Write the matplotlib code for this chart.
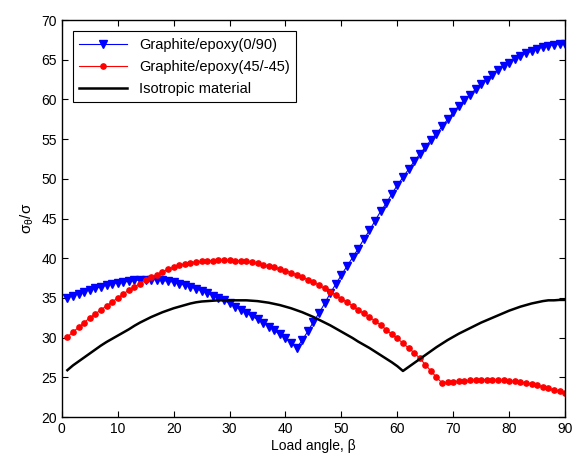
import numpy as np
import matplotlib
matplotlib.use("Agg")
import matplotlib.pyplot as plt

plt.rcParams['font.family'] = ['Liberation Sans', 'DejaVu Sans']
plt.rcParams['mathtext.fontset'] = 'custom'
plt.rcParams['mathtext.rm'] = 'Liberation Sans'
plt.rcParams['mathtext.it'] = 'Liberation Sans'

# load angle, degrees
beta = list(range(1, 91))

# Graphite/epoxy (0/90)
s_090 = [35.0, 35.3, 35.5, 35.8, 36.0, 36.2, 36.4, 36.6, 36.8, 36.9,
         37.0, 37.1, 37.2, 37.25, 37.3, 37.3, 37.3, 37.2, 37.1, 37.0,
         36.8, 36.6, 36.4, 36.15, 35.9, 35.6, 35.3, 35.0, 34.7, 34.3,
         33.9, 33.5, 33.1, 32.7, 32.3, 31.85, 31.4, 30.9, 30.4, 29.9,
         29.35, 28.7, 29.7, 30.8, 32.0, 33.1, 34.3, 35.6, 36.75, 37.9,
         39.0, 40.1, 41.2, 42.4, 43.5, 44.7, 45.9, 46.9, 48.1, 49.2,
         50.2, 51.2, 52.2, 53.1, 54.0, 54.9, 55.7, 56.6, 57.5, 58.4,
         59.2, 59.9, 60.6, 61.3, 61.9, 62.5, 63.1, 63.7, 64.2, 64.6,
         65.05, 65.5, 65.8, 66.1, 66.4, 66.6, 66.8, 66.9, 67.0, 67.05]

# Graphite/epoxy (45/-45)
s_4545 = [30.1, 30.7, 31.3, 31.9, 32.5, 33.0, 33.5, 34.0, 34.5, 35.0,
          35.5, 36.0, 36.4, 36.8, 37.2, 37.6, 37.95, 38.3, 38.6, 38.85,
          39.1, 39.3, 39.45, 39.55, 39.6, 39.7, 39.7, 39.75, 39.75, 39.75,
          39.7, 39.7, 39.6, 39.5, 39.35, 39.2, 39.0, 38.85, 38.65, 38.45,
          38.2, 37.9, 37.6, 37.3, 37.0, 36.6, 36.2, 35.8, 35.35, 34.9,
          34.45, 34.0, 33.5, 33.05, 32.6, 32.1, 31.6, 31.0, 30.45, 29.9,
          29.3, 28.7, 28.1, 27.4, 26.6, 25.8, 25.0, 24.3, 24.35, 24.45,
          24.5, 24.55, 24.6, 24.7, 24.7, 24.7, 24.7, 24.6, 24.6, 24.55,
          24.5, 24.4, 24.3, 24.2, 24.0, 23.8, 23.6, 23.4, 23.3, 23.0]

# isotropic material
s_iso = [25.9, 26.5, 27.0, 27.5, 28.0, 28.5, 29.0, 29.45, 29.85, 30.25,
         30.65, 31.05, 31.5, 31.9, 32.25, 32.6, 32.9, 33.2, 33.45, 33.7,
         33.9, 34.1, 34.3, 34.45, 34.55, 34.6, 34.65, 34.7, 34.7, 34.7,
         34.7, 34.7, 34.7, 34.65, 34.6, 34.5, 34.4, 34.25, 34.1, 33.9,
         33.7, 33.45, 33.2, 32.9, 32.6, 32.25, 31.9, 31.55, 31.15, 30.75,
         30.35, 29.95, 29.5, 29.1, 28.7, 28.25, 27.8, 27.35, 26.9, 26.4,
         25.8, 26.3, 26.8, 27.3, 27.8, 28.3, 28.8, 29.25, 29.7, 30.1,
         30.5, 30.85, 31.2, 31.55, 31.9, 32.2, 32.5, 32.8, 33.1, 33.4,
         33.65, 33.9, 34.1, 34.3, 34.45, 34.6, 34.7, 34.7, 34.75, 34.75]

fig = plt.figure(figsize=(5.72, 4.57), dpi=100)
ax = fig.add_axes([0.108, 0.0875, 0.88, 0.8685])

ax.plot(beta, s_090, color='blue', lw=0.8, marker='v', ms=5.5,
        mfc='blue', mec='blue', label='Graphite/epoxy(0/90)')
ax.plot(beta, s_4545, color='red', lw=0.8, marker='o', ms=3.8,
        mfc='red', mec='red', label='Graphite/epoxy(45/-45)')
ax.plot(beta, s_iso, color='black', lw=1.8, label='Isotropic material')

ax.set_xlim(0, 90)
ax.set_ylim(20, 70)
ax.set_xticks(range(0, 91, 10))
ax.set_yticks(range(20, 71, 5))
ax.tick_params(direction='in', top=True, right=True, labelsize=10,
               length=4, width=0.8)
for sp in ax.spines.values():
    sp.set_linewidth(1.0)

ax.set_xlabel('Load angle, β', fontsize=10, labelpad=2)
ax.set_ylabel(r'$\mathregular{\sigma_\theta/\sigma}$', fontsize=11, labelpad=4)

leg = ax.legend(loc='upper left', fontsize=10.5, fancybox=False,
                edgecolor='black', framealpha=1, borderaxespad=0.75,
                handlelength=3.3, labelspacing=0.55, borderpad=0.45)
leg.get_frame().set_linewidth(0.8)

fig.savefig('out.png', dpi=100)
